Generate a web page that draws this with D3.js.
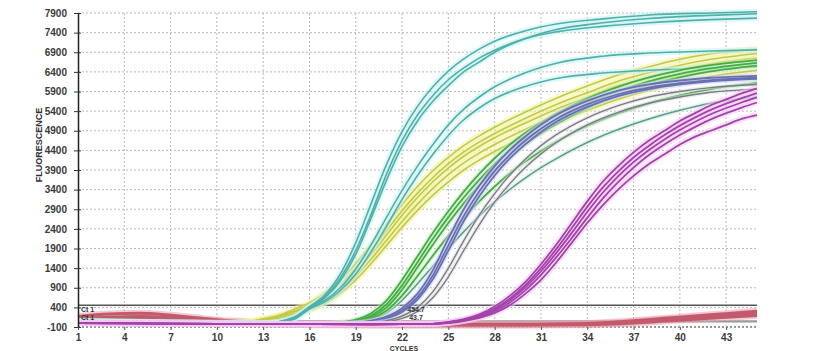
<!DOCTYPE html>
<html>
<head>
<meta charset="utf-8">
<script src="https://cdn.jsdelivr.net/npm/d3@7"></script>
<style>
  body { margin: 0; background: #fff; }
  svg { display: block; font-family: "Liberation Sans", Arial, sans-serif; }
  .axis text { font-size: 10px; font-weight: bold; fill: #3a3a3a; }
</style>
</head>
<body>
<svg width="830" height="351"></svg>
<script>
// tick labels
var xTicks = [1, 4, 7, 10, 13, 16, 19, 22, 25, 28, 31, 34, 37, 40, 43];
var yTicks = [-100, 400, 900, 1400, 1900, 2400, 2900, 3400, 3900, 4400, 4900, 5400, 5900, 6400, 6900, 7400, 7900];

// thresholds
var thresholds = [454.7, 43.7];

// teal group
var tealCycles = [1, 7, 13, 15, 16, 17, 18, 19, 20, 21, 22, 23, 24, 25, 26, 27, 28, 30, 32, 35, 38, 42, 45];
var tealValues = [
    [60, 20, 0, 150, 420, 720, 1250, 2050, 3050, 4050, 4880, 5520, 6020, 6420, 6730, 6980, 7180, 7450, 7620, 7750, 7850, 7900, 7930],
    [50, 15, -10, 140, 400, 670, 1150, 1850, 2780, 3800, 4650, 5300, 5800, 6200, 6500, 6750, 6950, 7250, 7420, 7560, 7650, 7730, 7770],
    [40, 10, -10, 130, 380, 640, 1080, 1750, 2680, 3650, 4500, 5150, 5650, 6050, 6400, 6650, 6900, 7250, 7480, 7650, 7760, 7840, 7880],
    [40, 10, -10, 110, 380, 580, 900, 1380, 2000, 2700, 3380, 4000, 4550, 5050, 5450, 5760, 6020, 6380, 6620, 6800, 6880, 6930, 6960],
    [30, 0, -20, 100, 360, 540, 830, 1250, 1820, 2470, 3150, 3760, 4300, 4780, 5180, 5480, 5720, 6030, 6230, 6370, 6440, 6500, 6530]
];

// yellow group
var yellowCycles = [1, 7, 10, 12, 13, 14, 15, 16, 17, 18, 19, 20, 21, 22, 23, 24, 25, 26, 27, 28, 30, 32, 34, 36, 38, 40, 42, 45];
var yellowValues = [
    [40, 10, 0, 40, 110, 200, 350, 520, 760, 1080, 1520, 2000, 2520, 3020, 3480, 3880, 4220, 4520, 4770, 4990, 5380, 5730, 6040, 6320, 6530, 6720, 6860, 6980],
    [30, 0, -10, 30, 90, 170, 300, 460, 680, 980, 1400, 1860, 2360, 2860, 3310, 3710, 4060, 4360, 4610, 4830, 5220, 5570, 5870, 6160, 6380, 6570, 6720, 6870],
    [30, 0, -10, 20, 80, 150, 280, 420, 620, 900, 1300, 1750, 2250, 2750, 3200, 3600, 3950, 4250, 4500, 4720, 5100, 5450, 5750, 6050, 6250, 6450, 6600, 6750],
    [20, -10, -20, 10, 60, 120, 230, 360, 550, 820, 1190, 1630, 2110, 2590, 3030, 3430, 3780, 4080, 4330, 4550, 4940, 5290, 5600, 5880, 6100, 6300, 6450, 6600],
    [20, -10, -20, 0, 50, 100, 200, 320, 500, 760, 1100, 1520, 1980, 2440, 2870, 3260, 3600, 3900, 4150, 4370, 4760, 5110, 5420, 5700, 5930, 6120, 6280, 6440]
];

// green group
var greenCycles = [1, 10, 16, 17, 18, 19, 20, 21, 22, 23, 24, 25, 26, 27, 28, 29, 30, 31, 32, 34, 36, 38, 40, 42, 45];
var greenValues = [
    [20, 0, -20, -10, 20, 90, 250, 580, 1100, 1700, 2300, 2850, 3350, 3800, 4200, 4550, 4850, 5100, 5330, 5720, 6020, 6260, 6440, 6570, 6700],
    [10, -10, -30, -20, 0, 60, 190, 480, 960, 1550, 2150, 2700, 3200, 3650, 4050, 4400, 4700, 4960, 5200, 5600, 5910, 6160, 6350, 6490, 6630],
    [10, -10, -30, -20, -10, 40, 150, 400, 850, 1420, 2000, 2550, 3050, 3500, 3900, 4250, 4560, 4830, 5070, 5480, 5800, 6060, 6260, 6410, 6560],
    [0, -20, -40, -30, -20, 20, 110, 320, 700, 1200, 1720, 2220, 2680, 3100, 3480, 3820, 4120, 4380, 4620, 5020, 5340, 5600, 5800, 5960, 6120]
];
var tealGrayValues = [
    [0, -20, -40, -30, -20, 10, 80, 260, 580, 1000, 1450, 1900, 2330, 2730, 3090, 3410, 3700, 3960, 4190, 4600, 4930, 5200, 5420, 5600, 5760]
];

// blue and gray group
var blueCycles = [1, 10, 16, 18, 19, 20, 21, 22, 23, 24, 25, 26, 27, 28, 29, 30, 31, 32, 34, 36, 38, 40, 42, 45];
var blueValues = [
    [20, 0, -20, -10, 10, 60, 170, 380, 750, 1350, 2150, 2900, 3500, 4000, 4420, 4760, 5050, 5300, 5660, 5920, 6080, 6180, 6250, 6300],
    [10, -10, -30, -20, 0, 40, 130, 320, 660, 1220, 1980, 2730, 3350, 3870, 4300, 4650, 4950, 5200, 5570, 5830, 6000, 6110, 6190, 6250],
    [10, -10, -30, -20, -10, 30, 110, 280, 600, 1120, 1850, 2600, 3230, 3760, 4200, 4560, 4870, 5130, 5510, 5780, 5960, 6080, 6160, 6220]
];
var grayValues = [
    [0, -20, -40, -30, -20, 0, 60, 180, 400, 800, 1400, 2100, 2750, 3300, 3780, 4180, 4520, 4800, 5230, 5540, 5760, 5900, 6000, 6080],
    [0, -20, -40, -30, -20, -10, 30, 120, 300, 650, 1180, 1850, 2500, 3080, 3560, 3970, 4310, 4600, 5050, 5370, 5600, 5760, 5880, 5960]
];

// magenta group
var magentaCycles = [1, 10, 20, 24, 25, 26, 27, 28, 29, 30, 31, 32, 33, 34, 35, 36, 37, 38, 39, 40, 41, 42, 43, 44, 45];
var magentaValues = [
    [0, -20, -30, -20, 30, 100, 220, 420, 700, 1050, 1500, 2000, 2550, 3100, 3600, 4000, 4350, 4650, 4900, 5150, 5350, 5550, 5700, 5850, 5980],
    [0, -20, -30, -20, 20, 80, 190, 370, 630, 970, 1400, 1890, 2420, 2960, 3450, 3860, 4220, 4520, 4790, 5030, 5240, 5430, 5590, 5730, 5860],
    [0, -20, -30, -20, 10, 70, 170, 340, 590, 910, 1320, 1790, 2300, 2830, 3320, 3740, 4100, 4410, 4680, 4920, 5130, 5320, 5480, 5620, 5750],
    [0, -20, -30, -20, 10, 60, 150, 300, 530, 840, 1230, 1680, 2170, 2680, 3170, 3590, 3960, 4280, 4550, 4790, 5000, 5190, 5350, 5490, 5620],
    [0, -20, -30, -20, 0, 50, 130, 260, 460, 750, 1100, 1550, 2050, 2550, 3000, 3400, 3750, 4050, 4300, 4550, 4750, 4900, 5050, 5200, 5300]
];

// red baseline group
var redCycles = [1, 3, 5, 7, 9, 11, 13, 16, 20, 25, 30, 33, 35, 37, 39, 41, 43, 45];
var redValues = [
    [170, 230, 250, 200, 120, 50, 10, -20, -30, -30, -30, -20, 10, 60, 120, 180, 240, 300],
    [110, 150, 170, 140, 80, 30, 0, -30, -40, -40, -40, -30, -10, 30, 90, 140, 200, 250],
    [60, 90, 100, 80, 40, 10, -20, -40, -50, -50, -50, -45, -30, 0, 50, 100, 150, 190]
];

var thrLabels = ['Ct 1', 'Ct 1'];

var svg = d3.select('svg');
var plot = {l: 78, r: 757, t: 13, b: 327};

var xScale = d3.scaleLinear().domain([1, 45]).range([plot.l, plot.r]);
var yScale = d3.scaleLinear().domain([-100, 7900]).range([plot.b, plot.t]);

// grid
var grid = svg.append('g');
grid.selectAll('.hgrid')
    .data(yTicks)
    .enter().append('line')
    .attr('x1', plot.l).attr('x2', plot.r)
    .attr('y1', function(d) { return yScale(d); })
    .attr('y2', function(d) { return yScale(d); })
    .attr('stroke', function(d) { return d === -100 ? '#777' : '#b8b8b8'; })
    .attr('stroke-width', function(d) { return d === -100 ? 1.5 : 1; })
    .attr('stroke-dasharray', '2,2');

grid.selectAll('.vgrid')
    .data(xTicks.slice(1))
    .enter().append('line')
    .attr('y1', plot.t).attr('y2', plot.b)
    .attr('x1', function(d) { return xScale(d); })
    .attr('x2', function(d) { return xScale(d); })
    .attr('stroke', '#b8b8b8')
    .attr('stroke-dasharray', '2,2');

// thresholds
svg.selectAll('.thr')
    .data(thresholds)
    .enter().append('line')
    .attr('x1', plot.l).attr('x2', plot.r)
    .attr('y1', function(d) { return yScale(d); })
    .attr('y2', function(d) { return yScale(d); })
    .attr('stroke', function(d, i) { return i === 0 ? '#555' : '#999'; })
    .attr('stroke-width', function(d, i) { return i === 0 ? 1.3 : 2.2; });

var line = d3.line()
    .x(function(d) { return xScale(d[0]); })
    .y(function(d) { return yScale(d[1]); })
    .curve(d3.curveMonotoneX);

function drawGroup(cycles, values, color, halo, width, haloWidth) {
    var rows = values.map(function(v) {
        return cycles.map(function(c, i) { return [c, v[i]]; });
    });
    var g = svg.append('g');
    g.selectAll('.halo')
        .data(rows)
        .enter().append('path')
        .attr('d', line)
        .attr('fill', 'none')
        .attr('stroke', halo)
        .attr('stroke-width', haloWidth)
        .attr('stroke-opacity', 0.55);
    g.selectAll('.curve')
        .data(rows)
        .enter().append('path')
        .attr('d', line)
        .attr('fill', 'none')
        .attr('stroke', color)
        .attr('stroke-width', width);
}

drawGroup(redCycles, redValues, '#c25a6c', '#e8a0b0', 3, 7);
drawGroup(yellowCycles, yellowValues, '#c4c847', '#eef39a', 1.6, 6);
drawGroup(tealCycles, tealValues, '#4fb0aa', '#c9f2f2', 1.6, 6);
drawGroup(greenCycles, tealGrayValues, '#5c9c8c', '#d0eee0', 1.5, 5);
drawGroup(greenCycles, greenValues, '#44ad44', '#c5ecc0', 1.8, 5);
drawGroup(blueCycles, blueValues, '#6670b2', '#ccd0f0', 1.8, 5);
drawGroup(blueCycles, grayValues, '#7c7c84', '#dddde6', 1.4, 4);
drawGroup(magentaCycles, magentaValues, '#a243a8', '#f5c6f5', 1.8, 6);

// axes
var plain = function(d) { return d < 0 ? '-' + Math.abs(d) : String(d); };

var yAxis = svg.append('g')
    .attr('class', 'axis')
    .attr('transform', 'translate(' + plot.l + ',0)')
    .call(d3.axisLeft(yScale).tickValues(yTicks).tickFormat(plain).tickSizeInner(4).tickSizeOuter(0).tickPadding(7));
yAxis.select('.domain').attr('stroke', '#222').attr('stroke-width', 1.5);
yAxis.selectAll('.tick line').attr('stroke', '#333').attr('x2', 3).attr('x1', -4);

var xAxis = svg.append('g')
    .attr('class', 'axis')
    .attr('transform', 'translate(0,' + plot.b + ')')
    .call(d3.axisBottom(xScale).tickValues(xTicks).tickFormat(plain).tickSizeInner(3).tickSizeOuter(0).tickPadding(4));
xAxis.select('.domain').remove();
xAxis.selectAll('.tick line').attr('stroke', '#555');

// labels
svg.append('text')
    .attr('transform', 'translate(42,145) rotate(-90)')
    .attr('text-anchor', 'middle')
    .style('font-size', '9px')
    .style('font-weight', 'bold')
    .attr('fill', '#333')
    .text('FLUORESCENCE');

svg.append('text')
    .attr('x', 404).attr('y', 350.5)
    .attr('text-anchor', 'middle')
    .style('font-size', '7px')
    .style('font-weight', 'bold')
    .attr('fill', '#333')
    .text('CYCLES');

// threshold labels
svg.selectAll('.ctlab')
    .data(thrLabels)
    .enter().append('text')
    .attr('x', 81)
    .attr('y', function(d, i) { return yScale(thresholds[0]) + 7 + i * 8; })
    .style('font-size', '7px')
    .style('font-weight', 'bold')
    .attr('fill', '#333')
    .text(function(d) { return d; });

svg.selectAll('.thrval')
    .data(thresholds)
    .enter().append('text')
    .attr('x', 416)
    .attr('y', function(d, i) { return yScale(thresholds[0]) + 7 + i * 8; })
    .attr('text-anchor', 'middle')
    .style('font-size', '7px')
    .style('font-weight', 'bold')
    .attr('fill', '#333')
    .text(function(d) { return d; });
</script>
</body>
</html>
